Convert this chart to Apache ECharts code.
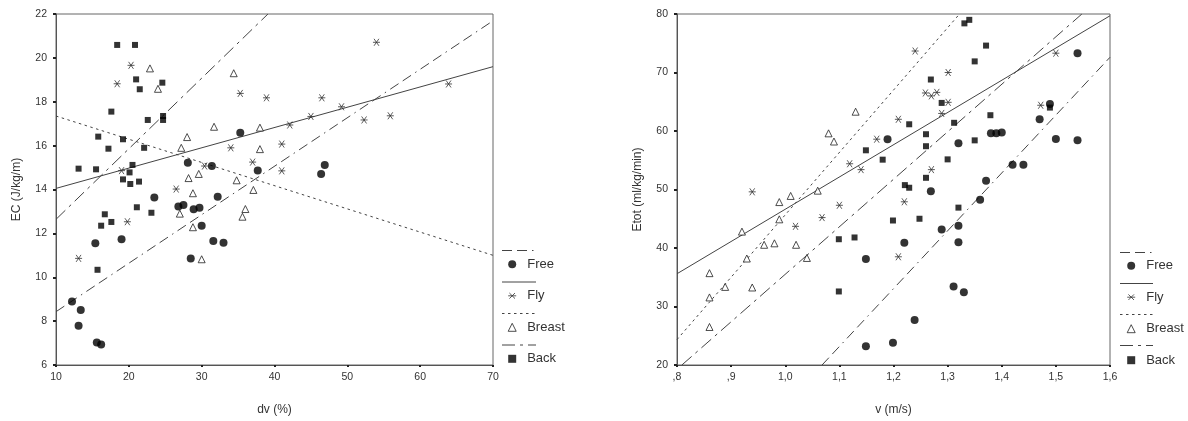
<!DOCTYPE html>
<html><head><meta charset="utf-8">
<script src="https://cdn.jsdelivr.net/npm/echarts@6/dist/echarts.min.js"></script>
<style>html,body{margin:0;padding:0;background:#fff}#c{width:1188px;height:421px}</style>
</head><body><div id="c"></div>
<script>
// ---------- Left panel: EC (J/kg/m) vs dv (%) ----------
const ecFree = [[35.3,16.59],[28.1,15.22],[31.4,15.07],[37.7,14.87],[46.9,15.12],[46.4,14.71],[23.5,13.63],[32.2,13.67],[26.8,13.22],[27.5,13.29],[28.9,13.1],[29.7,13.17],[30.0,12.35],[19.0,11.73],[15.4,11.55],[31.6,11.65],[33.0,11.57],[28.5,10.85],[12.2,8.89],[13.4,8.51],[13.1,7.79],[15.6,7.03],[16.2,6.93]];
const ecFly = [[20.3,19.66],[18.4,18.82],[35.3,18.38],[38.9,18.18],[34.0,15.9],[37.0,15.25],[30.4,15.07],[19.0,14.86],[26.5,14.02],[19.8,12.53],[13.1,10.86],[54.0,20.71],[63.9,18.81],[46.5,18.18],[49.2,17.77],[45.0,17.33],[42.1,16.94],[55.9,17.36],[52.3,17.17],[41.0,16.07],[41.0,14.85]];
const ecBreast = [[22.9,19.52],[24.0,18.59],[34.4,19.3],[31.7,16.86],[38.0,16.82],[28.0,16.39],[27.2,15.9],[38.0,15.84],[29.6,14.71],[28.2,14.52],[34.8,14.42],[28.8,13.83],[37.1,13.98],[36.0,13.11],[35.6,12.76],[27.0,12.9],[28.8,12.28],[30.0,10.82]];
const ecBack = [[18.4,20.59],[20.85,20.59],[21.0,19.02],[24.6,18.87],[21.5,18.57],[17.6,17.55],[22.6,17.17],[24.7,17.35],[24.7,17.17],[15.8,16.41],[19.2,16.29],[17.2,15.86],[22.1,15.9],[13.1,14.95],[15.5,14.92],[20.5,15.12],[20.1,14.78],[19.2,14.46],[20.2,14.25],[21.4,14.36],[21.1,13.19],[23.1,12.94],[16.7,12.87],[17.6,12.52],[16.2,12.35],[15.7,10.34]];
// fit lines (end points)
const ecFreeFit = [[10,8.43],[70,21.69]];
const ecFlyFit = [[10,14.05],[70,19.6]];
const ecBreastFit = [[10,17.35],[70,11.0]];
const ecBackFit = [[10,12.64],[39.1,22]];

// ---------- Right panel: Etot (ml/kg/min) vs v (m/s) ----------
const etFree = [[1.189,58.6],[1.269,49.7],[1.22,40.9],[1.149,38.1],[1.239,27.7],[1.149,23.2],[1.199,23.8],[1.54,73.3],[1.489,64.6],[1.47,62.0],[1.5,58.65],[1.54,58.4],[1.38,59.6],[1.39,59.6],[1.40,59.75],[1.32,57.9],[1.42,54.25],[1.44,54.25],[1.371,51.5],[1.36,48.25],[1.32,43.8],[1.289,43.15],[1.32,41.0],[1.311,33.4],[1.33,32.45]];
const etFly = [[1.24,73.67],[1.259,66.5],[1.209,62.0],[1.169,58.6],[1.119,54.4],[1.14,53.4],[0.939,49.6],[1.10,47.3],[1.068,45.2],[1.019,43.7],[1.22,47.9],[1.209,38.5],[1.50,73.3],[1.301,70.0],[1.27,66.0],[1.28,66.6],[1.301,64.9],[1.289,63.0],[1.472,64.4],[1.27,53.4]];
const etBreast = [[1.13,63.3],[1.08,59.6],[1.09,58.2],[1.01,48.9],[0.989,47.85],[1.06,49.8],[0.989,44.9],[0.92,42.8],[0.961,40.55],[0.98,40.8],[1.02,40.55],[1.04,38.3],[0.929,38.2],[0.86,35.7],[0.889,33.35],[0.939,33.25],[0.86,31.55],[0.86,26.5]];
const etBack = [[1.099,32.57],[1.099,41.5],[1.128,41.8],[1.149,56.7],[1.18,55.1],[1.229,61.15],[1.26,59.45],[1.26,57.4],[1.26,52.0],[1.221,50.75],[1.229,50.3],[1.199,44.7],[1.248,45.0],[1.331,78.4],[1.34,79.0],[1.371,74.6],[1.35,71.9],[1.269,68.8],[1.289,64.8],[1.379,62.7],[1.312,61.4],[1.35,58.4],[1.30,55.15],[1.32,46.9],[1.489,64.0]];
const etFreeFit = [[1.068,20],[1.6,72.6]];
const etFlyFit = [[0.8,35.6],[1.6,79.7]];
const etBreastFit = [[0.8,24.35],[1.322,80]];
const etBackFit = [[0.809,20],[1.548,80]];

const groupNames = ['Free','Fly','Breast','Back'];

const FONT = 'Liberation Sans, Arial, sans-serif';
const TXT = '#333';
const AX = '#555';
const ASTER = 'path://M0,5L10,5M1.5,1.5L8.5,8.5M8.5,1.5L1.5,8.5';

const marker = {
  Free: {symbol:'circle', symbolSize:8, itemStyle:{color:'#000'}},
  Fly: {symbol:ASTER, symbolSize:7, itemStyle:{color:'rgba(0,0,0,0)', borderColor:'#333', borderWidth:1}},
  Breast: {symbol:'triangle', symbolSize:7, itemStyle:{color:'#fff', borderColor:'#222', borderWidth:1}},
  Back: {symbol:'rect', symbolSize:6, itemStyle:{color:'#000'}}
};
const dash = {
  Free: [10,5,10,5,1.5,5],
  Fly: 'solid',
  Breast: [2.5,3.5],
  Back: [13,5,3,5]
};

function scatter(name, data, gi){
  const m = marker[name];
  return {type:'scatter', name, data, xAxisIndex:gi, yAxisIndex:gi,
    symbol:m.symbol, symbolSize:m.symbolSize, itemStyle:m.itemStyle, silent:true, z:3};
}
function fit(name, data, gi){
  return {type:'line', name:name+' fit', data, xAxisIndex:gi, yAxisIndex:gi,
    symbol:'none', silent:true, z:2,
    lineStyle:{color:'#444', width:1, type:dash[name]}};
}

function yAxis(gi, min, max, interval, name){
  return {type:'value', gridIndex:gi, min, max, interval, name,
    nameLocation:'middle', nameGap:33,
    nameTextStyle:{fontFamily:FONT, fontSize:12, color:TXT},
    axisLine:{show:true, lineStyle:{color:AX, width:1}},
    axisTick:{show:true, length:3, lineStyle:{color:'#222', width:2}},
    axisLabel:{fontFamily:FONT, fontSize:10.5, color:TXT, margin:9},
    splitLine:{show:false}};
}
function xAxis(gi, min, max, interval, name, fmt){
  return {type:'value', gridIndex:gi, min, max, interval, name,
    nameLocation:'middle', nameGap:39,
    nameTextStyle:{fontFamily:FONT, fontSize:12, color:TXT},
    axisLine:{show:true, lineStyle:{color:AX, width:1}},
    axisTick:{show:true, length:2, lineStyle:{color:'#222', width:2}},
    axisLabel:{fontFamily:FONT, fontSize:10.5, color:TXT, margin:7, formatter:fmt},
    splitLine:{show:false}};
}

function legendItems(){
  return groupNames.map(n => {
    const m = marker[n];
    return {name:n, icon:m.symbol, itemStyle:m.itemStyle};
  });
}
function legend(left, top){
  return {orient:'vertical', left, top, padding:0, itemWidth:8, itemHeight:8, itemGap:17.5,
    selectedMode:false, data:legendItems(),
    textStyle:{fontFamily:FONT, fontSize:13, color:TXT, lineHeight:14, padding:[0,0,0,6]}};
}
function legendLines(x0, x1, y0, step){
  return groupNames.map((n,i) => ({type:'line', silent:true,
    shape:{x1:x0, y1:y0+i*step, x2:x1, y2:y0+i*step},
    style:{stroke:'#444', lineWidth:1, lineDash: dash[n]==='solid' ? null : dash[n]}}));
}

const fmtV = v => {
  let s = (Math.round(v*10)/10).toFixed(1).replace('.', ',');
  if (s.startsWith('0')) s = s.slice(1);
  return s;
};

const option = {
  backgroundColor:'#fff',
  animation:false,
  grid:[
    {left:56, top:14, width:437, height:351, show:true, borderColor:'#666', borderWidth:1},
    {left:677, top:14, width:433, height:353, show:true, borderColor:'#666', borderWidth:1}
  ],
  xAxis:[
    xAxis(0, 10, 70, 10, 'dv (%)'),
    xAxis(1, 0.8, 1.6, 0.1, 'v (m/s)', fmtV)
  ],
  yAxis:[
    yAxis(0, 6, 22, 2, 'EC (J/kg/m)'),
    yAxis(1, 20, 80, 10, 'Etot (ml/kg/min)')
  ],
  legend:[legend(507.7, 257.3), legend(1126.7, 258.7)],
  graphic:[...legendLines(502, 536, 250.5, 31.5), ...legendLines(1120, 1153, 252.5, 31)],
  series:[
    fit('Free', ecFreeFit, 0), fit('Fly', ecFlyFit, 0), fit('Breast', ecBreastFit, 0), fit('Back', ecBackFit, 0),
    scatter('Free', ecFree, 0), scatter('Fly', ecFly, 0), scatter('Breast', ecBreast, 0), scatter('Back', ecBack, 0),
    fit('Free', etFreeFit, 1), fit('Fly', etFlyFit, 1), fit('Breast', etBreastFit, 1), fit('Back', etBackFit, 1),
    scatter('Free', etFree, 1), scatter('Fly', etFly, 1), scatter('Breast', etBreast, 1), scatter('Back', etBack, 1)
  ]
};
const chart = echarts.init(document.getElementById('c'), null, {renderer:'canvas'});
chart.setOption(option);
</script></body></html>
